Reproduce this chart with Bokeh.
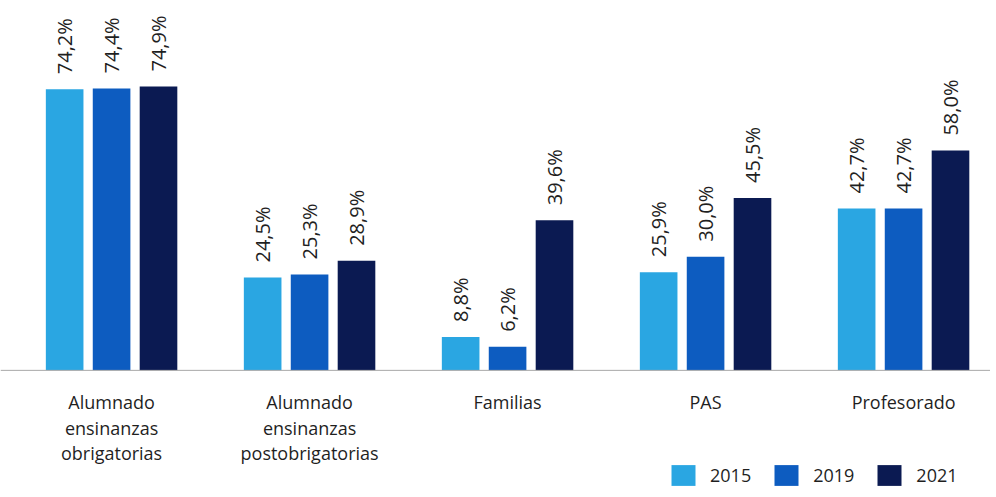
import numpy as np
from bokeh.plotting import figure
from bokeh.models import ColumnDataSource, Range1d, Span, Legend, LegendItem
from bokeh.core.properties import value
from bokeh.embed import file_html
from bokeh.resources import INLINE

categories = ["Alumnado\nensinanzas\nobrigatorias",
              "Alumnado\nensinanzas\npostobrigatorias",
              "Familias", "PAS", "Profesorado"]
years = ["2015", "2019", "2021"]
v2015 = [74.2, 24.5, 8.8, 25.9, 42.7]
v2019 = [74.4, 25.3, 6.2, 30.0, 42.7]
v2021 = [74.9, 28.9, 39.6, 45.5, 58.0]

colors = ["#2aa6e2", "#0d5cc0", "#0b1a52"]
FONT = "Open Sans"
TEXT_COLOR = "#1f1f1f"

p = figure(width=990, height=490, output_backend="svg", toolbar_location=None,
           x_range=Range1d(-0.561, 4.439), y_range=Range1d(-31.7, 97.6),
           min_border=0)
p.xaxis.visible = False
p.yaxis.visible = False
p.xgrid.visible = False
p.ygrid.visible = False
p.outline_line_color = None
p.background_fill_color = "white"

idx = np.arange(len(categories))
offsets = [-0.237, 0.0, 0.237]
renderers = []
for vals, off, col in zip([v2015, v2019, v2021], offsets, colors):
    src = ColumnDataSource(dict(
        x=idx + off, top=vals,
        lab=[f"{v:.1f}%".replace(".", ",") for v in vals]))
    r = p.vbar(x="x", top="top", bottom=0, width=0.19, source=src,
               fill_color=col, line_color=None)
    renderers.append(r)
    p.text(x="x", y="top", text="lab", source=src, angle=np.pi / 2,
           text_align="left", text_baseline="middle", y_offset=-15,
           text_font=value(FONT), text_font_size="20px", text_color=TEXT_COLOR)

p.add_layout(Span(location=0, dimension="width", line_color="#a8a8a8", line_width=1))

cat_src = ColumnDataSource(dict(x=idx, y=[0] * len(categories), t=categories))
p.text(x="x", y="y", text="t", source=cat_src, y_offset=20,
       text_align="center", text_baseline="top", text_line_height=1.05,
       text_font=value(FONT), text_font_size="18px", text_color=TEXT_COLOR)

legend = Legend(items=[LegendItem(label=y, renderers=[r]) for y, r in zip(years, renderers)],
                orientation="horizontal", location=(668, 2),
                glyph_width=30, glyph_height=26, label_standoff=12, spacing=20,
                padding=0, margin=0, border_line_color=None,
                background_fill_alpha=0,
                label_text_font=FONT, label_text_font_size="18px",
                label_text_color=TEXT_COLOR)
p.add_layout(legend, "center")

open("out.html", "w").write(file_html(p, INLINE))
